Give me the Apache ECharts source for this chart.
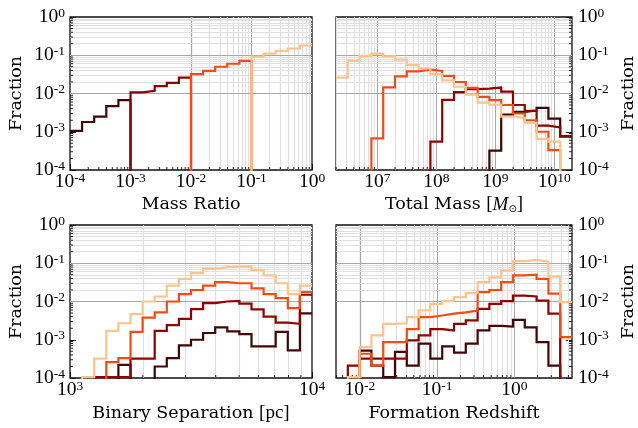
<!DOCTYPE html>
<html><head><meta charset="utf-8">
<script src="https://cdn.jsdelivr.net/npm/echarts@6/dist/echarts.min.js"></script>
<style>html,body{margin:0;padding:0;background:#fff}#c{width:638px;height:428px}</style>
</head><body><div id="c"></div>
<script>
// ---------- data ----------
// colours: darkest, dark red, orange, peach
const seriesColors = ['#3f0606', '#8e0000', '#f24c14', '#fdc48e'];

// Panel 1: Mass Ratio (bin edges as log10 values)
const massRatioEdgesExp = [-4.0,-3.8,-3.6,-3.4,-3.2,-3.0,-2.8,-2.6,-2.4,-2.2,-2.0,-1.8,-1.6,-1.4,-1.2,-1.0,-0.8,-0.6,-0.4,-0.2,0.0];
const massRatioDarkest = [1.06e-3,1.8e-3,2.5e-3,4.7e-3,6.7e-3,0,0,0,0,0,0,0,0,0,0,0,0,0,0,0];
const massRatioDarkRed = [0,0,0,0,0,1.07e-2,1.17e-2,1.56e-2,1.9e-2,2.6e-2,0,0,0,0,0,0,0,0,0,0];
const massRatioOrange  = [0,0,0,0,0,0,0,0,0,0,3.2e-2,3.9e-2,5.0e-2,6.0e-2,7.1e-2,0,0,0,0,0];
const massRatioPeach   = [0,0,0,0,0,0,0,0,0,0,0,0,0,0,0,9.1e-2,1.1e-1,1.3e-1,1.5e-1,1.8e-1];

// Panel 2: Total Mass
const totalMassEdgesExp = [6.3,6.5,6.7,6.9,7.1,7.3,7.5,7.7,7.9,8.1,8.3,8.5,8.7,8.9,9.1,9.3,9.5,9.7,9.9,10.1,10.3];
const totalMassDarkest = [0,0,0,0,0,0,0,0,0,0,0,0,0,3.2e-4,2.8e-3,3.3e-3,3.6e-3,4.2e-3,2.2e-3,7.7e-4];
const totalMassDarkRed = [0,0,0,0,0,0,0,0,5.5e-4,6.8e-3,1.08e-2,1.3e-2,1.34e-2,1.43e-2,1.12e-2,5.0e-3,3.5e-3,1.45e-3,1.3e-3,7.5e-4];
const totalMassOrange  = [0,0,0,6.7e-4,1.44e-2,2.8e-2,3.8e-2,4.2e-2,3.9e-2,2.9e-2,2.0e-2,1.4e-2,8.2e-3,6.7e-3,5.0e-3,3.0e-3,2.0e-3,1.0e-3,3.3e-4,0];
const totalMassPeach   = [2.6e-2,7.1e-2,9.6e-2,1.1e-1,9.4e-2,7.7e-2,5.5e-2,4.5e-2,3.2e-2,2.2e-2,1.5e-2,9.3e-3,5.8e-3,5.1e-3,2.5e-3,2.3e-3,1.7e-3,6.5e-4,5.5e-4,0];

// Panel 3: Binary Separation
const separationEdgesExp = [3.00,3.05,3.10,3.15,3.20,3.25,3.30,3.35,3.40,3.45,3.50,3.55,3.60,3.65,3.70,3.75,3.80,3.85,3.90,3.95,4.00];
const separationDarkest = [0,0,0,0,2.2e-4,0,0,2.0e-4,3.3e-4,7.1e-4,1.0e-3,1.5e-3,2.1e-3,1.65e-3,1.4e-3,6.7e-4,6.7e-4,1.6e-3,5.3e-4,4.9e-3];
const separationDarkRed = [0,0,1.05e-4,1.05e-4,1.05e-4,3.2e-4,3.2e-4,1.7e-3,2.4e-3,3.5e-3,6.3e-3,9.1e-3,1.0e-2,1.03e-2,8.8e-3,6.2e-3,4.0e-3,2.8e-3,2.6e-3,1.5e-2];
const separationOrange  = [0,0,0,2.6e-4,3.3e-4,1.6e-3,3.8e-3,5.2e-3,1.0e-2,1.55e-2,2.0e-2,2.6e-2,3.2e-2,3.0e-2,3.0e-2,2.2e-2,1.55e-2,1.22e-2,6.7e-3,1.75e-2];
const separationPeach   = [0,1.05e-4,3.2e-4,1.7e-3,2.7e-3,4.7e-3,1.0e-2,1.35e-2,2.6e-2,3.9e-2,5.5e-2,7.1e-2,7.9e-2,8.2e-2,8.2e-2,6.7e-2,4.8e-2,3.0e-2,1.55e-2,2.6e-2];

// Panel 4: Formation Redshift
const redshiftEdgesExp = [-2.308,-2.155,-2.003,-1.850,-1.697,-1.545,-1.392,-1.239,-1.087,-0.934,-0.781,-0.629,-0.476,-0.324,-0.171,-0.018,0.134,0.287,0.440,0.592,0.745];
const redshiftDarkest = [0,0,5.2e-4,2.1e-4,1.05e-4,4.8e-4,2.1e-4,7.9e-4,3.2e-4,6.7e-4,4.6e-4,7.9e-4,1.75e-3,2.3e-3,2.2e-3,3.3e-3,2.1e-3,8.7e-4,2.1e-4,0];
const redshiftDarkRed = [0,2.1e-4,3.2e-4,3.2e-4,3.2e-4,3.2e-4,9.6e-4,1.3e-3,1.9e-3,1.75e-3,2.6e-3,3.2e-3,6.4e-3,8.7e-3,1.02e-2,1.43e-2,1.35e-2,1.06e-2,4.8e-3,0];
const redshiftOrange  = [0,0,4.3e-4,2.1e-4,8.7e-4,8.7e-4,1.9e-3,3.9e-3,4.3e-3,4.8e-3,5.2e-3,5.8e-3,1.75e-2,2.0e-2,3.2e-2,4.8e-2,5.0e-2,3.9e-2,1.6e-2,1.17e-3];
const redshiftPeach   = [0,1.05e-4,6.4e-4,1.3e-3,2.6e-3,2.7e-3,3.9e-3,5.9e-3,8.7e-3,1.02e-2,1.3e-2,1.65e-2,3.2e-2,4.3e-2,6.4e-2,1.13e-1,1.22e-1,1.1e-1,4.5e-2,9.6e-3];

// axis titles
const yTitle = 'Fraction';
const xTitles = ['Mass Ratio', 'Total Mass', 'Binary Separation', 'Formation Redshift'];

// ---------- chart ----------
const FLOOR = 1e-8;           // stands for an empty bin (outside the plotted range)
const TXT = 'DejaVu Serif';
const MATH = 'Liberation Serif';

function hist(edgesExp, vals) {
  const pts = [];
  for (let i = 0; i < vals.length; i++) {
    const v = vals[i] > 0 ? vals[i] : FLOOR;
    pts.push([Math.pow(10, edgesExp[i]), v], [Math.pow(10, edgesExp[i + 1]), v]);
  }
  return pts;
}

const panels = [
  {edges: massRatioEdgesExp, sets: [massRatioDarkest, massRatioDarkRed, massRatioOrange, massRatioPeach], right: false},
  {edges: totalMassEdgesExp, sets: [totalMassDarkest, totalMassDarkRed, totalMassOrange, totalMassPeach], right: true},
  {edges: separationEdgesExp, sets: [separationDarkest, separationDarkRed, separationOrange, separationPeach], right: false},
  {edges: redshiftEdgesExp, sets: [redshiftDarkest, redshiftDarkRed, redshiftOrange, redshiftPeach], right: true}
];
const gridBoxes = [
  {left: 70, top: 17}, {left: 336, top: 17}, {left: 70, top: 225}, {left: 336, top: 225}
];
const Y_MIN = 1e-4, Y_MAX = 1;

const tickRich = {
  b: {fontFamily: MATH, fontSize: 19.5, lineHeight: 22, color: '#000'},
  s: {fontFamily: MATH, fontSize: 13.5, lineHeight: 12, verticalAlign: 'top', color: '#000'}
};
function powLabel(v) {
  const e = Math.round(Math.log10(v));
  return '{b|10}{s|' + e + '}';
}

const MAJOR = {color: '#a8a8a8', width: 1, type: 'solid'};
const MINOR = {color: '#e0e0e0', width: 1.2, type: 'solid'};
function logPositions(minV, maxV) {
  const out = [];
  const lo = Math.floor(Math.log10(minV)), hi = Math.ceil(Math.log10(maxV));
  for (let d = lo; d <= hi; d++) {
    for (let m = 1; m <= 9; m++) {
      const v = m * Math.pow(10, d);
      if (v > minV * 1.002 && v < maxV / 1.002) out.push({v, major: m === 1});
    }
  }
  return out;
}
function gridLines(minV, maxV, key) {
  const pos = logPositions(minV, maxV);
  const minor = pos.filter(p => !p.major).map(p => ({[key]: p.v, lineStyle: MINOR}));
  const major = pos.filter(p => p.major).map(p => ({[key]: p.v, lineStyle: MAJOR}));
  return minor.concat(major);
}

const grid = [], xAxis = [], yAxis = [], series = [];
panels.forEach((p, i) => {
  const xMin = Math.pow(10, p.edges[0]), xMax = Math.pow(10, p.edges[p.edges.length - 1]);
  grid.push({left: gridBoxes[i].left, top: gridBoxes[i].top, width: 242, height: 153,
    show: true, borderColor: '#111', borderWidth: 1.3, backgroundColor: 'rgba(0,0,0,0)', z: 0});
  let xName = xTitles[i];
  const nameRich = {t: {fontFamily: TXT, fontSize: 17.5, color: '#000'},
    m: {fontFamily: MATH, fontSize: 19, color: '#000'},
    mi: {fontFamily: MATH, fontSize: 19, fontStyle: 'italic', color: '#000'},
    sub: {fontFamily: 'DejaVu Sans', fontSize: 10, verticalAlign: 'bottom', lineHeight: 14, color: '#000'}};
  if (i === 1) xName = '{t|' + xName + ' }{m|[}{mi|M}{sub|\u2299}{m|]}';
  else if (i === 2) xName = '{t|' + xName + ' }{m|[pc]}';
  else xName = '{t|' + xName + '}';
  xAxis.push({type: 'log', logBase: 10, gridIndex: i, min: xMin, max: xMax,
    name: xName, nameLocation: 'middle', nameGap: i < 2 ? 25 : 26, nameTextStyle: {rich: nameRich},
    axisLine: {show: false}, axisTick: {show: true, inside: true, length: 6, lineStyle: {color: '#111'}},
    splitLine: {show: false},
    axisLabel: {formatter: powLabel, rich: tickRich, margin: 1,
      showMinLabel: !(i === 1 || i === 3), showMaxLabel: !(i === 1 || i === 3)}});
  yAxis.push({type: 'log', logBase: 10, gridIndex: i, min: Y_MIN, max: Y_MAX,
    position: p.right ? 'right' : 'left',
    name: yTitle, nameLocation: 'middle', nameRotate: 90, nameGap: p.right ? 47 : 45,
    nameTextStyle: {fontFamily: TXT, fontSize: 17.5, color: '#000'},
    axisLine: {show: false}, axisTick: {show: true, inside: true, length: 6, lineStyle: {color: '#111'}},
    splitLine: {show: false},
    axisLabel: {formatter: powLabel, rich: tickRich, margin: p.right ? 6 : 5}});
  // reference grid lines (drawn beneath the histograms)
  series.push({type: 'line', xAxisIndex: i, yAxisIndex: i, data: [], z: 1, silent: true,
    markLine: {silent: true, z: 1, symbol: ['none', 'none'], label: {show: false}, animation: false,
      emphasis: {disabled: true},
      data: gridLines(xMin, xMax, 'xAxis').concat(gridLines(Y_MIN, Y_MAX, 'yAxis'))}});
  // short inward minor ticks on the labelled sides
  const tickData = logPositions(xMin, xMax).filter(t => !t.major).map(t => ({value: [t.v, Y_MIN], kind: 'x'}))
    .concat(logPositions(Y_MIN, Y_MAX).filter(t => !t.major).map(t => ({value: [p.right ? xMax : xMin, t.v], kind: 'y'})));
  series.push({type: 'custom', xAxisIndex: i, yAxisIndex: i, silent: true, z: 2, clip: false,
    data: tickData.map(t => t.value),
    renderItem: (params, api) => {
      const kind = tickData[params.dataIndex].kind;
      const c = api.coord([api.value(0), api.value(1)]);
      let shape;
      if (kind === 'x') shape = {x1: c[0], y1: c[1], x2: c[0], y2: c[1] - 3};
      else shape = {x1: c[0], y1: c[1], x2: c[0] + (p.right ? -3 : 3), y2: c[1]};
      return {type: 'line', shape, style: {stroke: '#111', lineWidth: 0.9}};
    }});
  p.sets.forEach((vals, k) => {
    series.push({type: 'line', xAxisIndex: i, yAxisIndex: i, data: hist(p.edges, vals),
      showSymbol: false, symbol: 'none', clip: true, z: 10 + k, silent: true,
      lineStyle: {color: seriesColors[k], width: 2.2, join: 'miter'}});
  });
});

const chart = echarts.init(document.getElementById('c'), null, {renderer: 'canvas'});
chart.setOption({animation: false, backgroundColor: '#fff', grid, xAxis, yAxis, series});
</script></body></html>
